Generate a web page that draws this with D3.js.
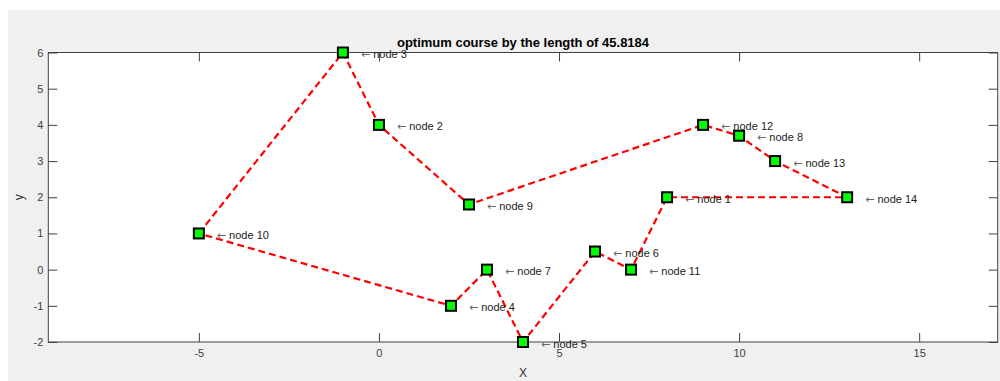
<!DOCTYPE html>
<html>
<head>
<meta charset="utf-8">
<script src="https://cdn.jsdelivr.net/npm/d3@7"></script>
<style>
  html, body { margin: 0; padding: 0; background: #ffffff; }
  svg { display: block; }
  text { font-family: "Liberation Sans", Arial, Helvetica, sans-serif; }
</style>
</head>
<body>
<svg id="chart" width="1000" height="381"></svg>
<script>
// Node coordinates (index i -> node i+1)
const nodeX = [8, 0, -1, 2, 4, 6, 3, 10, 2.5, -5, 7, 9, 11, 13];
const nodeY = [2, 4, 6, -1, -2, 0.5, 0, 3.7, 1.8, 1, 0, 4, 3, 2];
// Visiting order of the optimum tour (1-based node numbers), closed loop
const tour = [10, 3, 2, 9, 12, 8, 13, 14, 1, 11, 6, 5, 7, 4, 10];
const tourLength = 45.8184;
const xTicks = [-5, 0, 5, 10, 15];
const yTicks = [-2, -1, 0, 1, 2, 3, 4, 5, 6];
const xLimits = [-9.18, 17.18];
const yLimits = [-2, 6];

const svg = d3.select("#chart");

// figure background
svg.append("rect").attr("x", 8).attr("y", 10).attr("width", 992).attr("height", 371).attr("fill", "#f0f0f0");

const plot = { left: 48.3, right: 997.7, top: 52.5, bottom: 342 };
const x = d3.scaleLinear().domain(xLimits).range([plot.left, plot.right]);
const y = d3.scaleLinear().domain(yLimits).range([plot.bottom, plot.top]);

// axes area
svg.append("rect")
  .attr("x", plot.left).attr("y", plot.top)
  .attr("width", plot.right - plot.left).attr("height", plot.bottom - plot.top)
  .attr("fill", "#ffffff");

const axisColor = "#404040";
const tickLen = 9;
const plainNum = d => String(d);

function styleAxis(g) {
  g.select(".domain").remove();
  g.selectAll(".tick line").attr("stroke", axisColor).attr("stroke-width", 1);
  g.selectAll(".tick text").attr("fill", "#404040").style("font-size", "11px")
    .style("font-family", "'Liberation Sans', Arial, sans-serif");
}

svg.append("g").attr("transform", `translate(0,${plot.bottom})`)
  .call(d3.axisBottom(x).tickValues(xTicks).tickSize(-tickLen).tickPadding(7).tickFormat(plainNum))
  .call(styleAxis);
svg.append("g").attr("transform", `translate(0,${plot.top})`)
  .call(d3.axisTop(x).tickValues(xTicks).tickSize(-tickLen).tickFormat(""))
  .call(styleAxis);
svg.append("g").attr("transform", `translate(${plot.left},0)`)
  .call(d3.axisLeft(y).tickValues(yTicks).tickSize(-tickLen).tickPadding(5).tickFormat(plainNum))
  .call(styleAxis);
svg.append("g").attr("transform", `translate(${plot.right},0)`)
  .call(d3.axisRight(y).tickValues(yTicks).tickSize(-tickLen).tickFormat(""))
  .call(styleAxis);

// axes box
svg.append("rect")
  .attr("x", plot.left).attr("y", plot.top)
  .attr("width", plot.right - plot.left).attr("height", plot.bottom - plot.top)
  .attr("fill", "none").attr("stroke", axisColor).attr("stroke-width", 1);

// tour path
const tourPts = tour.map(n => [nodeX[n - 1], nodeY[n - 1]]);
const line = d3.line().x(d => x(d[0])).y(d => y(d[1]));
svg.append("path")
  .attr("d", line(tourPts))
  .attr("fill", "none")
  .attr("stroke", "#ff0000")
  .attr("stroke-width", 2.2)
  .attr("stroke-dasharray", "7,4");

// node markers
const nodes = nodeX.map((vx, i) => ({ id: i + 1, x: vx, y: nodeY[i] }));
const ms = 10;
svg.append("g").selectAll("rect").data(tour.slice(0, -1).map(n => nodes[n - 1])).join("rect")
  .attr("x", d => x(d.x) - ms / 2).attr("y", d => y(d.y) - ms / 2)
  .attr("width", ms).attr("height", ms)
  .attr("fill", "#00ff00").attr("stroke", "#000000").attr("stroke-width", 2);

// node labels: arrow glyph followed by the node name
const labels = svg.append("g").selectAll("text").data(nodes).join("text")
  .attr("x", d => x(d.x + 0.5)).attr("y", d => y(d.y))
  .attr("dy", "0.5em")
  .attr("fill", "#222222")
  .style("font-size", "11px");
labels.append("tspan")
  .style("font-family", "'DejaVu Sans', sans-serif")
  .attr("fill", "#666666")
  .text("\u2190");
labels.append("tspan")
  .text(d => " node " + d.id);

// title and axis labels
svg.append("text")
  .attr("x", (plot.left + plot.right) / 2).attr("y", 47)
  .attr("text-anchor", "middle")
  .style("font-size", "13px").style("font-weight", "bold")
  .attr("fill", "#000000")
  .text("optimum course by the length of " + tourLength);

svg.append("text")
  .attr("x", (plot.left + plot.right) / 2).attr("y", 377)
  .attr("text-anchor", "middle")
  .style("font-size", "12px").attr("fill", "#333333")
  .text("X");

svg.append("text")
  .attr("transform", `translate(23,${(plot.top + plot.bottom) / 2}) rotate(-90)`)
  .attr("text-anchor", "middle")
  .style("font-size", "12px").attr("fill", "#333333")
  .text("y");
</script>
</body>
</html>
